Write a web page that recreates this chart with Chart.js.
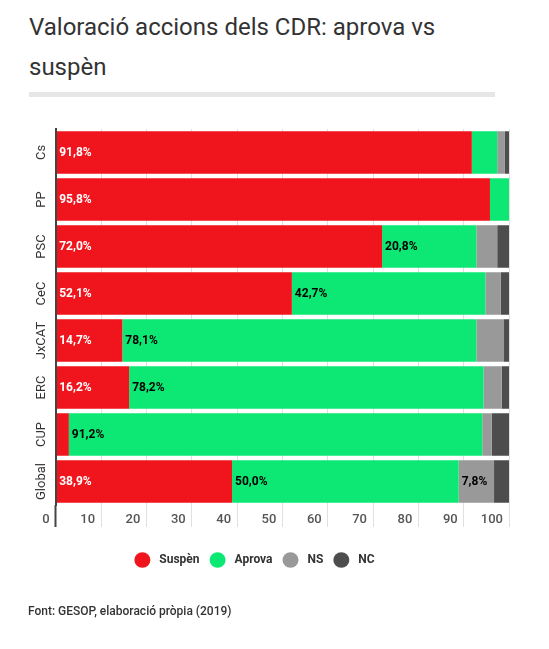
<!DOCTYPE html>
<html>
<head>
<meta charset="utf-8">
<script src="https://cdn.jsdelivr.net/npm/chart.js@4/dist/chart.umd.min.js"></script>
<style>
  html, body { margin: 0; padding: 0; background: #fff; }
  body { width: 549px; height: 649px; position: relative; overflow: hidden; font-family: Roboto, sans-serif; }
  #title { position: absolute; left: 29px; top: 8px; width: 500px; font-size: 24px; line-height: 39.5px; color: #333; font-weight: 400; }
  #rule { position: absolute; left: 29px; top: 92px; width: 466px; height: 5px; background: #e6e6e6; }
  #wrap { position: absolute; left: 0; top: 0; width: 513px; height: 649px; }
  #source { position: absolute; left: 28px; top: 604px; font-size: 12px; line-height: 14px; color: #333; font-weight: 500; }
</style>
</head>
<body>
<div id="title">Valoració accions dels CDR: aprova vs<br>suspèn</div>
<div id="rule"></div>
<div id="wrap"><canvas id="c"></canvas></div>
<div id="source">Font: GESOP, elaboració pròpia (2019)</div>
<script>
const categories = ['Cs', 'PP', 'PSC', 'CeC', 'JxCAT', 'ERC', 'CUP', 'Global'];
const seriesNames = ['Suspèn', 'Aprova', 'NS', 'NC'];
const suspen = [91.8, 95.8, 72.0, 52.1, 14.7, 16.2, 2.9, 38.9];
const aprova = [5.6, 4.2, 20.8, 42.7, 78.1, 78.2, 91.2, 50.0];
const ns = [1.7, 0, 4.6, 3.4, 6.1, 4.0, 2.1, 7.8];
const nc = [0.9, 0, 2.6, 1.8, 1.1, 1.6, 3.8, 3.3];
const xTicks = [0, 10, 20, 30, 40, 50, 60, 70, 80, 90, 100];

const colors = ['#f0141c', '#0de874', '#999999', '#4d4d4d'];
const labelColors = ['#ffffff', '#000000', '#000000', '#000000'];

Chart.defaults.font.family = 'Roboto, sans-serif';

const labelPlugin = {
  id: 'segLabels',
  afterDatasetsDraw(chart) {
    const ctx = chart.ctx;
    ctx.save();
    ctx.font = 'bold 12px Roboto, sans-serif';
    ctx.textBaseline = 'middle';
    ctx.textAlign = 'left';
    chart.data.datasets.forEach((ds, di) => {
      const meta = chart.getDatasetMeta(di);
      meta.data.forEach((el, i) => {
        const v = ds.data[i];
        if (!v) return;
        const p = el.getProps(['x', 'y', 'base'], true);
        const txt = v.toFixed(1).replace('.', ',') + '%';
        const w = ctx.measureText(txt).width;
        const seg = Math.abs(p.x - p.base);
        if (w + 5 > seg) return;
        ctx.fillStyle = labelColors[di];
        ctx.fillText(txt, Math.min(p.x, p.base) + 3, p.y + 0.5);
      });
    });
    ctx.restore();
  }
};

new Chart(document.getElementById('c'), {
  type: 'bar',
  data: {
    labels: categories,
    datasets: [
      { label: seriesNames[0], data: suspen, backgroundColor: colors[0] },
      { label: seriesNames[1], data: aprova, backgroundColor: colors[1] },
      { label: seriesNames[2], data: ns, backgroundColor: colors[2] },
      { label: seriesNames[3], data: nc, backgroundColor: colors[3] }
    ]
  },
  options: {
    indexAxis: 'y',
    responsive: true,
    maintainAspectRatio: false,
    animation: false,
    datasets: { bar: { categoryPercentage: 1, barPercentage: 0.9, borderWidth: 0 } },
    layout: { padding: { top: 129, left: 0, right: 4, bottom: 73 } },
    scales: {
      x: {
        stacked: true,
        min: 0, max: 100,
        afterBuildTicks: (s) => { s.ticks = xTicks.map(v => ({ value: v })); },
        afterFit: (s) => { s.height = 39; },
        grid: {
          color: (c) => c.tick && c.tick.value === 0 ? 'rgba(0,0,0,0)' : '#e0e0e0',
          tickColor: (c) => c.tick && c.tick.value === 0 ? '#444444' : '#e0e0e0',
          tickWidth: (c) => c.tick && c.tick.value === 0 ? 2 : 1,
          lineWidth: 1,
          drawTicks: true,
          tickLength: 22
        },
        border: { display: false },
        ticks: {
          align: 'end',
          labelOffset: -6,
          padding: -15,
          color: '#555555',
          font: { size: 13, weight: '500' },
          maxRotation: 0,
          autoSkip: false
        }
      },
      y: {
        stacked: true,
        afterFit: (s) => { s.width = 55.7; },
        grid: { display: false, drawTicks: false },
        border: { display: true, color: '#444444', width: 2, z: 1 },
        ticks: {
          minRotation: 90,
          maxRotation: 90,
          crossAlign: 'center',
          padding: -5,
          color: '#333333',
          font: { size: 13 },
          autoSkip: false
        }
      }
    },
    plugins: {
      legend: {
        position: 'bottom',
        labels: {
          usePointStyle: true,
          pointStyle: 'circle',
          pointStyleWidth: 16,
          boxHeight: 11,
          padding: 10,
          color: '#333333',
          font: { size: 12, weight: 'bold' },
          generateLabels: (chart) => Chart.defaults.plugins.legend.labels.generateLabels(chart)
            .map(item => Object.assign(item, { text: ' ' + item.text }))
        }
      },
      tooltip: { enabled: false },
      title: { display: false }
    }
  },
  plugins: [labelPlugin]
});
</script>
</body>
</html>
